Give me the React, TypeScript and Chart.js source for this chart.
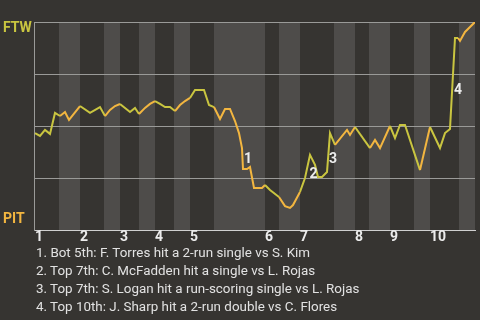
import React, { useEffect, useRef } from "react";
import { Chart, registerables } from "chart.js";

Chart.register(...registerables);

// ---- data (x = game event index, y = FTW win probability) ----
const eventX = [
  0, 1, 2, 3, 4, 5, 6, 6.8, 9, 11, 13, 14, 15, 16, 17, 19, 20, 20.8, 22, 23, 24,
  25, 26, 27, 28, 29, 30, 31, 32, 33.8, 34.8, 35.8, 37, 38, 39, 40, 40.8, 41.4,
  41.6, 42.4, 43, 43.8, 45.4, 46, 47, 48.8, 50, 51, 51.6, 53, 54, 55, 56, 56.6,
  57.4, 58.4, 59, 60, 62.4, 63, 64, 67, 68, 69, 71, 72, 73, 74, 77, 79, 81, 82,
  83, 84, 84.6, 85, 86, 87, 88,
];
const winProb = [
  0.466, 0.452, 0.481, 0.462, 0.563, 0.548, 0.567, 0.529, 0.596, 0.563, 0.591,
  0.548, 0.577, 0.596, 0.606, 0.567, 0.587, 0.558, 0.587, 0.606, 0.62, 0.606,
  0.591, 0.591, 0.572, 0.601, 0.62, 0.635, 0.673, 0.673, 0.601, 0.591, 0.534,
  0.582, 0.582, 0.524, 0.466, 0.394, 0.293, 0.293, 0.303, 0.202, 0.202, 0.216,
  0.192, 0.159, 0.115, 0.106, 0.12, 0.183, 0.25, 0.361, 0.313, 0.255, 0.255,
  0.279, 0.466, 0.409, 0.481, 0.457, 0.495, 0.394, 0.433, 0.394, 0.5, 0.442,
  0.505, 0.505, 0.288, 0.495, 0.394, 0.466, 0.486, 0.923, 0.923, 0.909, 0.952,
  0.976, 1.0,
];
const inningStarts = [0, 9, 17, 24, 31, 46, 53, 64, 71, 79];
const bottomStarts = [4.8, 13.8, 20.8, 27.8, 35.8, 48.8, 59.8, 66.8, 75.8, 84.8];
const inningLabels = ["1", "2", "3", "4", "5", "6", "7", "8", "9", "10"];
const lastEvent = 88;
const gridValues = [0, 0.25, 0.5, 0.75, 1];

const markerLabels = ["1", "2", "3", "4"];
const markerX = [42.6, 55.7, 59.6, 84.6];
const markerY = [0.341, 0.269, 0.341, 0.673];

const teamTop = "FTW";
const teamBottom = "PIT";
const notes = [
  "1. Bot 5th: F. Torres hit a 2-run single vs S. Kim",
  "2. Top 7th: C. McFadden hit a single vs L. Rojas",
  "3. Top 7th: S. Logan hit a run-scoring single vs L. Rojas",
  "4. Top 10th: J. Sharp hit a 2-run double vs C. Flores",
];

// ---- styles ----
const BG = "#363431";
const BAND = "#4e4c4a";
const GREEN = "#c9c540";
const ORANGE = "#f3b640";
const GRID = "#9a9a98";
const TEXT = "#ececec";
const FONT = "Roboto, 'Noto Sans', sans-serif";

function halfEnd(i: number) {
  return i + 1 < inningStarts.length ? inningStarts[i + 1] : lastEvent;
}
function isBottomHalf(x: number) {
  for (let i = 0; i < bottomStarts.length; i++) {
    if (x >= bottomStarts[i] && x <= halfEnd(i)) return true;
  }
  return false;
}

const bandPlugin = {
  id: "bands",
  beforeDraw(chart: any) {
    const { ctx, chartArea: a, scales } = chart;
    const x = scales.x;
    ctx.save();
    ctx.fillStyle = BAND;
    bottomStarts.forEach((s, i) => {
      const x0 = x.getPixelForValue(s);
      const x1 = x.getPixelForValue(halfEnd(i));
      ctx.fillRect(x0, a.top, x1 - x0, a.bottom - a.top);
    });
    ctx.restore();
  },
};

const markerPlugin = {
  id: "markers",
  afterDatasetsDraw(chart: any) {
    const { ctx, scales } = chart;
    ctx.save();
    ctx.fillStyle = TEXT;
    ctx.font = `bold 14px ${FONT}`;
    ctx.textAlign = "center";
    ctx.textBaseline = "middle";
    markerLabels.forEach((t, i) => {
      ctx.fillText(t, scales.x.getPixelForValue(markerX[i]), scales.y.getPixelForValue(markerY[i]));
    });
    ctx.restore();
  },
};

export default function App() {
  const ref = useRef<HTMLCanvasElement>(null);
  useEffect(() => {
    if (!ref.current) return;
    const chart = new Chart(ref.current, {
      type: "line",
      data: {
        datasets: [
          {
            data: eventX.map((x, i) => ({ x, y: winProb[i] })),
            borderColor: GREEN,
            borderWidth: 2,
            pointRadius: 0,
            tension: 0,
            segment: {
              borderColor: (c: any) =>
                isBottomHalf((c.p0.parsed.x + c.p1.parsed.x) / 2) ? ORANGE : GREEN,
            },
          },
        ],
      },
      plugins: [bandPlugin, markerPlugin],
      options: {
        responsive: false,
        animation: false,
        events: [],
        layout: { padding: { left: 3, top: 22, right: 5, bottom: 70 } },
        plugins: { legend: { display: false }, tooltip: { enabled: false } },
        scales: {
          x: {
            type: "linear",
            min: -0.2,
            max: lastEvent,
            afterBuildTicks: (s: any) => {
              s.ticks = inningStarts.map((v) => ({ value: v }));
            },
            afterFit: (s: any) => {
              s.height = 20;
            },
            ticks: {
              autoSkip: false,
              maxRotation: 0,
              align: "start",
              padding: -1,
              color: TEXT,
              font: { family: FONT, size: 14, weight: "bold" },
              callback: (_v: any, i: number) => inningLabels[i],
            },
            grid: { display: false, drawTicks: false },
            border: { display: true, color: "#d0d0d0", width: 1 },
          },
          y: {
            type: "linear",
            min: 0,
            max: 1,
            weight: 0,
            afterBuildTicks: (s: any) => {
              s.ticks = gridValues.map((v) => ({ value: v }));
            },
            afterFit: (s: any) => {
              s.width = 0;
            },
            ticks: { display: false },
            grid: { color: GRID, drawTicks: false, lineWidth: 1 },
            border: { display: true, color: GRID, width: 1 },
          },
          yl: {
            type: "linear",
            position: "left",
            min: 0,
            max: 1,
            weight: 1,
            afterBuildTicks: (s: any) => {
              s.ticks = [{ value: 0.05 }, { value: 0.97 }];
            },
            afterFit: (s: any) => {
              s.width = 31;
            },
            ticks: {
              crossAlign: "far",
              padding: 0,
              color: (c: any) => (c.tick && c.tick.value > 0.5 ? GREEN : ORANGE),
              font: { family: FONT, size: 14, weight: "bold" },
              callback: (v: any) => (v > 0.5 ? teamTop : teamBottom),
            },
            grid: { display: false, drawTicks: false },
            border: { display: false },
          },
        },
      } as any,
    });
    return () => chart.destroy();
  }, []);

  return (
    <div
      style={{
        position: "fixed",
        left: 0,
        top: 0,
        width: 480,
        height: 320,
        background: BG,
        overflow: "hidden",
      }}
    >
      <canvas ref={ref} width={480} height={320} style={{ display: "block", width: 480, height: 320 }} />
      <div
        style={{
          position: "absolute",
          left: 36,
          top: 244,
          fontFamily: FONT,
          fontSize: 13.4,
          lineHeight: "18px",
          color: "#e2e2e2",
          whiteSpace: "nowrap",
        }}
      >
        {notes.map((n, i) => (
          <div key={i}>{n}</div>
        ))}
      </div>
    </div>
  );
}
